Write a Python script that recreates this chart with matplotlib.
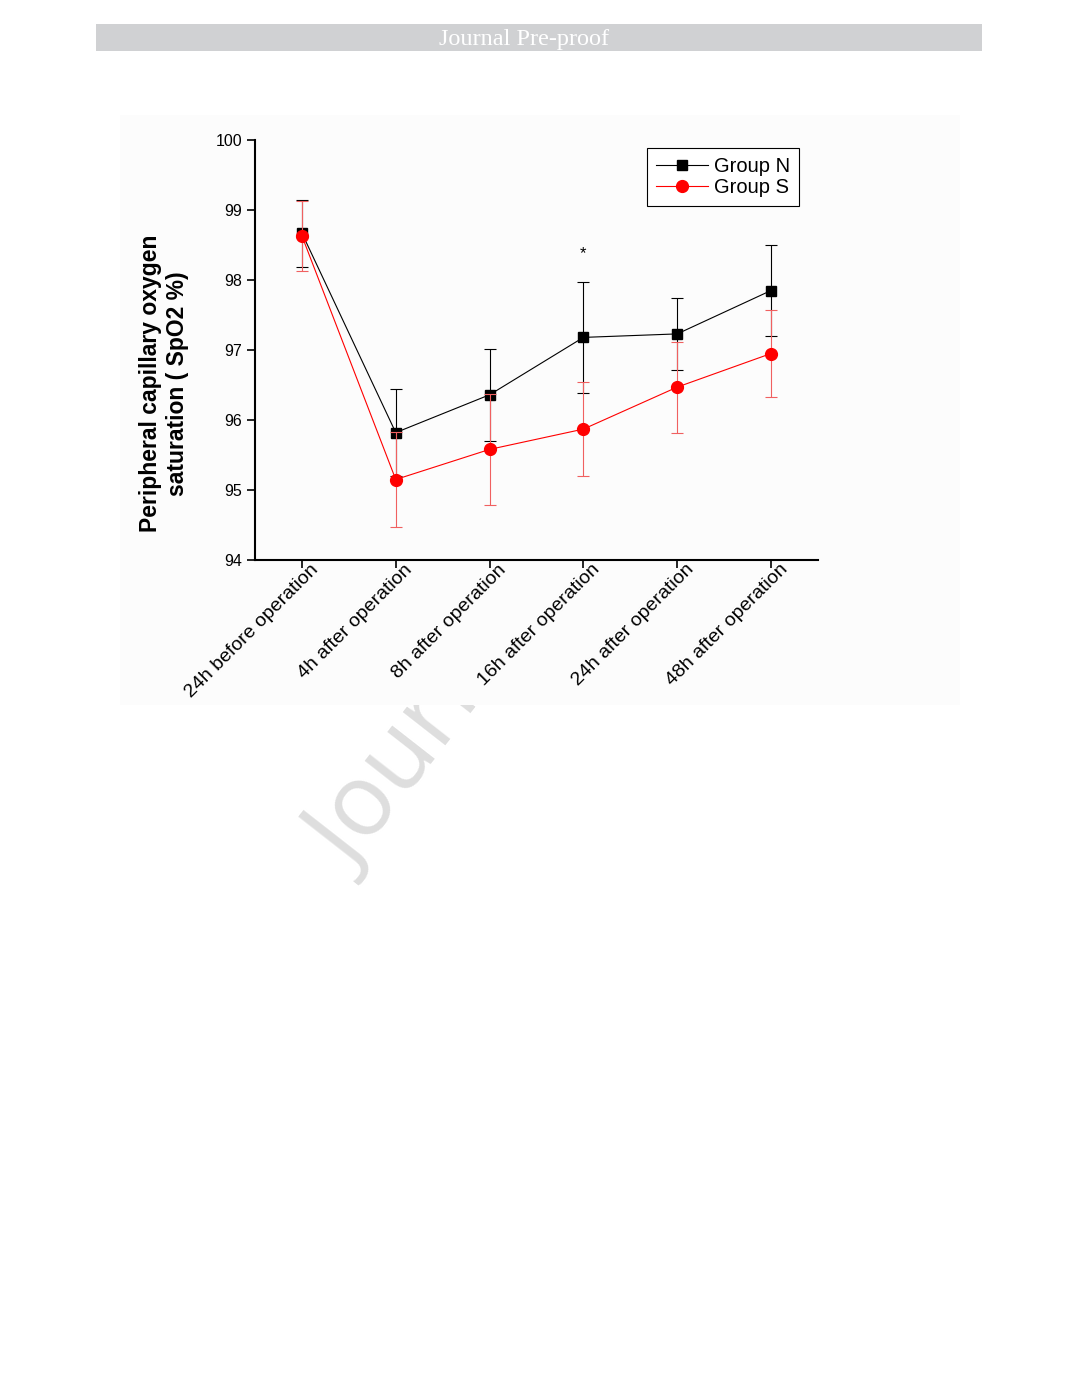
import numpy as np
import matplotlib.pyplot as plt
from matplotlib.patches import Rectangle
from matplotlib.lines import Line2D
from matplotlib.transforms import ScaledTranslation

plt.rcParams['font.family'] = ['Liberation Sans', 'DejaVu Sans']

# donnees
categories = ["24h before operation", "4h after operation", "8h after operation",
              "16h after operation", "24h after operation", "48h after operation"]
group_n = [98.67, 95.82, 96.36, 97.18, 97.23, 97.85]
group_n_sd = [0.48, 0.62, 0.66, 0.79, 0.51, 0.65]
group_s = [98.63, 95.15, 95.58, 95.87, 96.47, 96.95]
group_s_sd = [0.50, 0.68, 0.79, 0.67, 0.65, 0.62]
star_pos = (3, 98.38)

fig = plt.figure(figsize=(10.8, 14), dpi=100)

# bandeau en haut
fig.patches.append(Rectangle((0.0889, 0.9636), 0.8204, 0.0193, transform=fig.transFigure,
                             facecolor="#d0d1d3", edgecolor="none", zorder=0))
fig.text(0.485, 0.9715, "Journal Pre-proof", color="white", fontsize=17.5,
         family="Liberation Serif", ha="center", va="center")

# filigrane
fig.text(0.27, 0.365, "Journal Pre-proof", color="#dedede", fontsize=72, rotation=52,
         family="Open Sans", ha="left", va="bottom", zorder=0)
# fond de l'image du graphe (cache le filigrane)
fig.patches.append(Rectangle((0.111, 0.4964), 0.778, 0.4214, transform=fig.transFigure,
                             facecolor="#fcfcfc", edgecolor="none", zorder=1))

ax = fig.add_axes([0.2361, 0.6, 0.5213, 0.3])
ax.set_zorder(3)
ax.set_facecolor("none")
x = np.arange(len(categories))

ax.errorbar(x, group_n, yerr=group_n_sd, color="black", marker="s", markersize=7,
            linewidth=0.8, elinewidth=0.8, capsize=4, capthick=0.8, zorder=3)
ax.errorbar(x, group_s, yerr=group_s_sd, color="red", marker="o", markersize=8.5,
            linewidth=0.8, elinewidth=0.8, capsize=4, capthick=0.8, ecolor="#f06060",
            zorder=4)

ax.text(star_pos[0], star_pos[1], "*", ha="center", va="center", fontsize=12)

ax.set_xlim(-0.5, 5.5)
ax.set_ylim(94, 100)
ax.set_yticks([94, 95, 96, 97, 98, 99, 100])
ax.set_xticks(x)
ax.set_xticklabels([])
# etiquettes x placees a la main (decalees a droite du tick comme l'original)
lab_tr = ax.get_xaxis_transform() + ScaledTranslation(14 / 100, -7 / 100, fig.dpi_scale_trans)
for i, c in enumerate(categories):
    ax.text(x[i], 0, c, transform=lab_tr, rotation=45, ha="right", va="center",
            rotation_mode="anchor", fontsize=14, clip_on=False)
ax.tick_params(axis="y", labelsize=11.5, direction="out", length=6, width=1.2, pad=3)
ax.tick_params(axis="x", direction="out", length=6, width=1.2)
for s in ["top", "right"]:
    ax.spines[s].set_visible(False)
for s in ["left", "bottom"]:
    ax.spines[s].set_linewidth(1.5)

ax.set_ylabel("Peripheral capillary oxygen\nsaturation ( SpO2 %)", fontsize=16.5,
              fontweight="bold", linespacing=1.25)
ax.yaxis.set_label_coords(-0.117, 0.42)

handles = [Line2D([], [], color="black", marker="s", markersize=7, linewidth=0.8),
           Line2D([], [], color="red", marker="o", markersize=8.5, linewidth=0.8)]
leg = ax.legend(handles, ["Group N", "Group S"], loc="upper right",
                bbox_to_anchor=(0.967, 0.981), fontsize=14.5,
                fancybox=False, edgecolor="black", framealpha=1, handlelength=2.6,
                borderpad=0.45, labelspacing=0.1, handletextpad=0.3, borderaxespad=0)
leg.get_frame().set_linewidth(0.8)

fig.savefig("out.png", dpi=100, facecolor="white")
